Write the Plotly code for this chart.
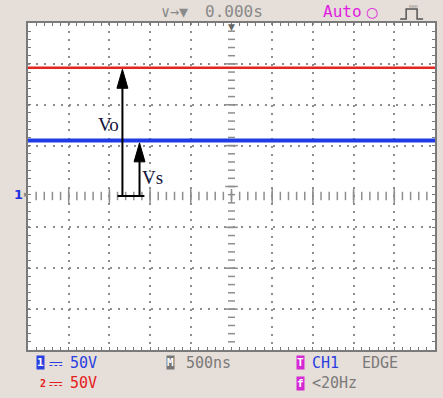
import numpy as np
import plotly.graph_objects as go

NS_PER_DIV = 500          # time base
V_PER_DIV = 50            # both channels
N_DIV_X = 10
N_DIV_Y = 8
GROUND_DIV_FROM_TOP = 4.232   # channel-1 ground marker position (divisions below top edge)

time_ns = [-2500, -1500, -500, 500, 1500, 2500]
vo_volts = [157, 157, 157, 157, 157, 157]   # CH2 (red) output voltage
vs_volts = [68, 68, 68, 68, 68, 68]         # CH1 (blue) supply voltage

arrow_x_vo = -1340   # ns, position of the hand-drawn Vo arrow
arrow_x_vs = -1130   # ns, position of the Vs arrow
base_x = [-1400, -1070]

# ---- geometry ----
W, H = 443, 398
L, R, T, B = 28, 6, 23, 48
PW, PH = W - L - R, H - T - B

y_top = GROUND_DIV_FROM_TOP * V_PER_DIV
y_bot = -(N_DIV_Y - GROUND_DIV_FROM_TOP) * V_PER_DIV
x_lo, x_hi = -N_DIV_X / 2 * NS_PER_DIV, N_DIV_X / 2 * NS_PER_DIV

ns_per_px = (x_hi - x_lo) / PW
v_per_px = (y_top - y_bot) / PH

grid_y = [y_top - k * V_PER_DIV for k in range(1, N_DIV_Y) if k != 4]
grid_x = [x_lo + k * NS_PER_DIV for k in range(1, N_DIV_X) if k != 5]

GRID = "#8e8e8e"
BG = "#e6ded8"

fig = go.Figure()

# centre axes graticule dashes
minor_y = [y_top - k * V_PER_DIV / 5 for k in range(1, N_DIV_Y * 5)]
major_y = [y_top - k * V_PER_DIV for k in range(1, N_DIV_Y)]
fig.add_trace(go.Scatter(x=[0] * len(minor_y), y=minor_y, mode="markers",
                         marker=dict(symbol="line-ew", size=5, line=dict(color=GRID, width=1.5)),
                         hoverinfo="skip", showlegend=False))
fig.add_trace(go.Scatter(x=[0] * len(major_y), y=major_y, mode="markers",
                         marker=dict(symbol="line-ew", size=9, line=dict(color=GRID, width=1.5)),
                         hoverinfo="skip", showlegend=False))
minor_x = [x_lo + k * NS_PER_DIV / 5 for k in range(1, N_DIV_X * 5)]
major_x = [x_lo + k * NS_PER_DIV for k in range(1, N_DIV_X)]
fig.add_trace(go.Scatter(x=minor_x, y=[0] * len(minor_x), mode="markers",
                         marker=dict(symbol="line-ns", size=6, line=dict(color=GRID, width=1.5)),
                         hoverinfo="skip", showlegend=False))
fig.add_trace(go.Scatter(x=major_x, y=[0] * len(major_x), mode="markers",
                         marker=dict(symbol="line-ns", size=10, line=dict(color=GRID, width=1.5)),
                         hoverinfo="skip", showlegend=False))

# traces
fig.add_trace(go.Scatter(x=time_ns, y=vo_volts, mode="lines",
                         line=dict(color="#e3241f", width=2.5), showlegend=False))
fig.add_trace(go.Scatter(x=time_ns, y=vs_volts, mode="lines",
                         line=dict(color="#1e3be6", width=4), showlegend=False))

# hand-drawn arrows
head_h = 19 * v_per_px
head_w = 5.5 * ns_per_px
shapes = []
for ax, v in ((arrow_x_vo, vo_volts[0] - 2), (arrow_x_vs, vs_volts[0] - 3)):
    shapes.append(dict(type="line", xref="x", yref="y", x0=ax, x1=ax, y0=0, y1=v - head_h + 1,
                       line=dict(color="black", width=2)))
    shapes.append(dict(type="path", xref="x", yref="y",
                       path=f"M{ax - head_w},{v - head_h} L{ax},{v} L{ax + head_w},{v - head_h} Z",
                       fillcolor="black", line=dict(color="black", width=1)))
shapes.append(dict(type="line", xref="x", yref="y", x0=base_x[0], x1=base_x[1], y0=0, y1=0,
                   line=dict(color="black", width=2)))


def px(x, y):
    return (x - L) / PW, (H - B - y) / PH


# trigger-mode pulse icon (top right)
pts = [(402, 19), (408, 19), (408, 9), (419, 9), (419, 19), (425, 19)]
path = "M" + " L".join(f"{px(a, b)[0]:.4f},{px(a, b)[1]:.4f}" for a, b in pts)
shapes.append(dict(type="path", xref="paper", yref="paper", path=path,
                   line=dict(color="#555555", width=1.5)))
fig.update_layout(shapes=shapes)

ann = []


def text(x, y, s, color, size=15, family="DejaVu Sans Mono", xanchor="left", **kw):
    xp, yp = px(x, y)
    ann.append(dict(x=xp, y=yp, xref="paper", yref="paper", text=s, showarrow=False,
                    xanchor=xanchor, yanchor="middle", font=dict(color=color, size=size, family=family), **kw))


# labels on the arrows
ann.append(dict(x=-1511, y=88, xref="x", yref="y", text="Vo", showarrow=False,
                font=dict(family="Liberation Serif", size=19, color="#14143a")))
ann.append(dict(x=-972, y=23, xref="x", yref="y", text="Vs", showarrow=False,
                font=dict(family="Liberation Serif", size=19, color="#14143a")))

# top bar
text(160, 12, "∨→▼", "#8a8a8a")
text(204, 12, "0.000s", "#8a8a8a", size=16)
text(322, 12, "Auto", "#e020e0", size=16)
text(366, 12, "<b>○</b>", "#e020e0", size=14, family="DejaVu Sans")
text(409, 8, "ᵐᵐ", "#555555", size=7, family="DejaVu Sans")
text(232.5, 27, "▼", "#666666", size=9, family="DejaVu Sans", xanchor="center")

# channel ground marker
text(12, 194, "<b>1</b>", "#2030e0", size=13, family="DejaVu Sans")
text(22, 194, "▸", "#888888", size=9, family="DejaVu Sans")


# bottom status bar
def box(x, y, s, bg):
    xp, yp = px(x, y)
    ann.append(dict(x=xp, y=yp, xref="paper", yref="paper", text=s, showarrow=False,
                    xanchor="left", yanchor="middle", bgcolor=bg, borderpad=0,
                    font=dict(color="white", size=11, family="DejaVu Sans Mono")))


box(36, 363, "<b>1</b>", "#2a3fe0")
text(47, 363, "⎓", "#2a3fe0", size=17, family="DejaVu Sans")
text(68, 363, "50V", "#2a3fe0")
text(38, 383, "<b>2</b>", "#e62020", size=10)
text(47, 383, "⎓", "#e62020", size=17, family="DejaVu Sans")
text(68, 383, "50V", "#e62020")
box(167, 363, "<b>M</b>", "#777777")
text(185, 363, "500ns", "#7a7a7a")
box(297, 363, "<b>T</b>", "#d42ad4")
text(311, 363, "CH1", "#2a3fe0")
text(362, 363, "EDGE", "#7a7a7a")
box(297, 383, "<b>f</b>", "#d42ad4")
text(311, 383, "<20Hz", "#7a7a7a")

fig.update_layout(annotations=ann)

fig.update_xaxes(range=[x_lo, x_hi], tickvals=grid_x, showticklabels=False,
                 showgrid=True, gridcolor=GRID, gridwidth=2, griddash="2px,6.18px",
                 ticks="inside", ticklen=3, tickcolor="#777777",
                 minor=dict(dtick=NS_PER_DIV / 5, tick0=x_lo, ticks="inside", ticklen=3,
                            tickcolor="#777777", showgrid=False),
                 showline=True, linecolor="#7a7a7a", linewidth=2, mirror="allticks",
                 zeroline=False, fixedrange=True)
fig.update_yaxes(range=[y_bot, y_top], tickvals=grid_y, showticklabels=False,
                 showgrid=True, gridcolor=GRID, gridwidth=2, griddash="2px,6.18px",
                 ticks="inside", ticklen=3, tickcolor="#777777",
                 minor=dict(dtick=V_PER_DIV / 5, tick0=y_top, ticks="inside", ticklen=3,
                            tickcolor="#777777", showgrid=False),
                 showline=True, linecolor="#7a7a7a", linewidth=2, mirror="allticks",
                 zeroline=False, fixedrange=True)

fig.update_layout(width=W, height=H, margin=dict(l=L, r=R, t=T, b=B),
                  paper_bgcolor=BG, plot_bgcolor="white", showlegend=False)

fig.write_html("out.html", config={"displayModeBar": False},
               post_script="document.body.style.margin='0';document.body.style.overflow='hidden';")
